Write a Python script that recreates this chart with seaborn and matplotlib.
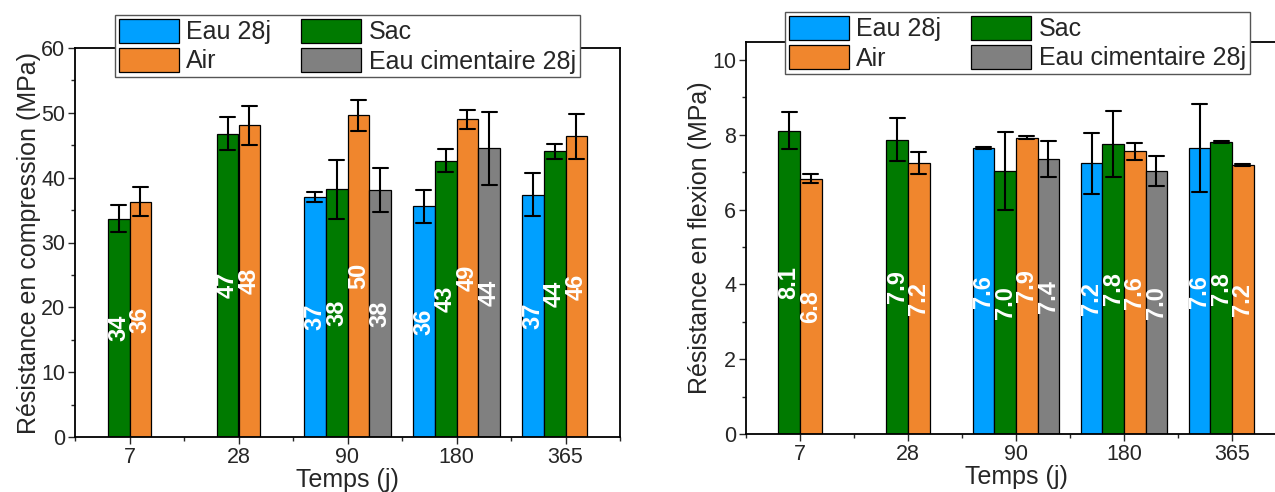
import pandas as pd
import matplotlib.pyplot as plt
import seaborn as sns

sns.set_theme(style="white")
plt.rcParams["font.family"] = ["Liberation Sans", "DejaVu Sans"]

# categories and series
temps = ["7", "28", "90", "180", "365"]
series = ["Eau 28j", "Sac", "Air", "Eau cimentaire 28j"]
colors = ["#00A0FF", "#007A00", "#F0862D", "#808080"]

# compression (MPa), None = not measured
comp_eau = [None, None, 37.0, 35.6, 37.4]
comp_sac = [33.7, 46.8, 38.2, 42.6, 44.05]
comp_air = [36.3, 48.1, 49.6, 49.0, 46.4]
comp_cim = [None, None, 38.1, 44.5, None]
comp_eau_err = [None, None, 0.75, 2.55, 3.35]
comp_sac_err = [2.15, 2.55, 4.55, 1.8, 1.15]
comp_air_err = [2.25, 3.0, 2.4, 1.45, 3.45]
comp_cim_err = [None, None, 3.4, 5.65, None]

# flexion (MPa)
flex_eau = [None, None, 7.64, 7.24, 7.64]
flex_sac = [8.11, 7.87, 7.03, 7.76, 7.80]
flex_air = [6.82, 7.24, 7.92, 7.56, 7.20]
flex_cim = [None, None, 7.36, 7.03, None]
flex_eau_err = [None, None, 0.03, 0.82, 1.17]
flex_sac_err = [0.49, 0.58, 1.04, 0.88, 0.03]
flex_air_err = [0.12, 0.30, 0.04, 0.23, 0.03]
flex_cim_err = [None, None, 0.48, 0.40, None]


def build_table(vals, errs):
    # two rows per bar (mean - err, mean + err) so seaborn gives mean and range
    rows = []
    for name, v_list, e_list in zip(series, vals, errs):
        for t, v, e in zip(temps, v_list, e_list):
            if v is None:
                continue
            rows.append({"temps": t, "serie": name, "val": v - e})
            rows.append({"temps": t, "serie": name, "val": v + e})
    return pd.DataFrame(rows)


comp_df = build_table([comp_eau, comp_sac, comp_air, comp_cim],
                      [comp_eau_err, comp_sac_err, comp_air_err, comp_cim_err])
flex_df = build_table([flex_eau, flex_sac, flex_air, flex_cim],
                      [flex_eau_err, flex_sac_err, flex_air_err, flex_cim_err])

fig = plt.figure(figsize=(12.75, 4.92), dpi=100)
ax1 = fig.add_axes([75 / 1275, 55 / 492, 545 / 1275, 389 / 492])
ax2 = fig.add_axes([746 / 1275, 58 / 492, 540 / 1275, 392 / 492])


def draw(ax, df, ylabel, fmt, ymax, yticks, yminor, legend_xy):
    sns.barplot(data=df, x="temps", y="val", hue="serie", order=temps,
                hue_order=series, palette=colors, width=0.8, saturation=1,
                estimator="mean", errorbar=lambda x: (x.min(), x.max()),
                capsize=0.55, err_kws={"color": "black", "linewidth": 1.5},
                edgecolor="black", linewidth=0.9, ax=ax)
    for cont in ax.containers:
        ax.bar_label(cont, fmt=fmt, label_type="center", rotation=90,
                     color="white", fontweight="bold", fontsize=17)
    ax.set_xlim(-0.5, 4.5)
    ax.set_ylim(0, ymax)
    ax.set_yticks(yticks)
    ax.set_yticks(yminor, minor=True)
    ax.set_xticks([i + 0.5 for i in range(-1, 5)], minor=True)
    ax.tick_params(which="major", direction="out", length=5, width=1,
                   labelsize=15.5, left=True, bottom=True, pad=2)
    ax.tick_params(which="minor", direction="out", length=3, width=1,
                   left=True, bottom=True)
    for s in ax.spines.values():
        s.set_color("black")
        s.set_linewidth(1.3)
    ax.set_xlabel("Temps (j)", fontsize=18, labelpad=0)
    ax.set_ylabel(ylabel, fontsize=18, labelpad=0)
    handles, labels = ax.get_legend_handles_labels()
    order = [0, 2, 1, 3]
    ax.legend([handles[i] for i in order], [labels[i] for i in order],
              ncol=2, loc="upper left", bbox_to_anchor=legend_xy,
              bbox_transform=fig.transFigure, fontsize=18, frameon=True,
              fancybox=False, framealpha=1, edgecolor="#555555",
              handlelength=2.4, handleheight=1.1, handletextpad=0.3,
              labelspacing=0.15, columnspacing=1.2, borderpad=0.15,
              borderaxespad=0)


draw(ax1, comp_df, "Résistance en compression (MPa)", "{:.0f}", 60,
     range(0, 61, 10), range(5, 60, 10), (115 / 1275, 1 - 15 / 492))
draw(ax2, flex_df, "Résistance en flexion (MPa)", "{:.1f}", 10.48,
     range(0, 11, 2), range(1, 11, 2), (785 / 1275, 1 - 12 / 492))

plt.savefig("out.png", dpi=100)
